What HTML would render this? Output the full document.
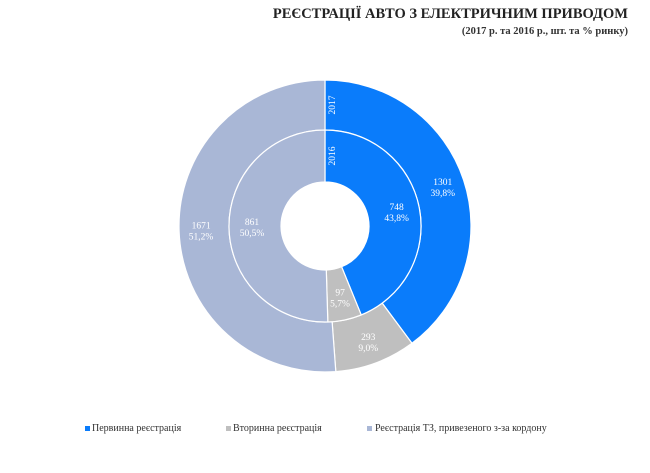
<!DOCTYPE html>
<html><head><meta charset="utf-8"><style>
body{margin:0;background:#fff;width:650px;height:468px;overflow:hidden;font-family:"Liberation Serif",serif}
</style></head><body>
<svg width="650" height="468" id="svg" font-family="Liberation Serif, serif">
<text x="628" y="18" text-anchor="end" font-size="14.5" font-weight="bold" fill="#222">РЕЄСТРАЦІЇ АВТО З ЕЛЕКТРИЧНИМ ПРИВОДОМ</text>
<text x="628" y="34" text-anchor="end" font-size="10.5" font-weight="bold" fill="#333">(2017 р. та 2016 р., шт. та % ринку)</text>
<g id="rings"></g>
<g font-size="10" fill="#333">
<rect x="85" y="426" width="5" height="5" fill="#0a7cfb"/>
<text x="92" y="431">Первинна реєстрація</text>
<rect x="226" y="426" width="5" height="5" fill="#bfbfbf"/>
<text x="233" y="431">Вторинна реєстрація</text>
<rect x="367" y="426" width="5" height="5" fill="#a9b7d6"/>
<text x="375" y="431">Реєстрація ТЗ, привезеного з-за кордону</text>
</g>
</svg>
<script>
const categories=["Первинна реєстрація","Вторинна реєстрація","Реєстрація ТЗ, привезеного з-за кордону"];
const years=["2017","2016"];
const values2017=[1301,293,1671];
const values2016=[748,97,861];
const pct2017=["39,8%","9,0%","51,2%"];
const pct2016=["43,8%","5,7%","50,5%"];
const colors=["#0a7cfb","#bfbfbf","#a9b7d6"];
const cx=325,cy=226;
const g=document.getElementById('rings');
const NS="http://www.w3.org/2000/svg";
function pt(r,a){return [cx+r*Math.sin(a),cy-r*Math.cos(a)];}
function ring(vals,pcts,r0,r1,key,year){
  const tot=vals.reduce((s,v)=>s+v,0);let a=0;
  vals.forEach((v,i)=>{
    const a2=a+v/tot*2*Math.PI,lg=(a2-a)>Math.PI?1:0;
    const [x1,y1]=pt(r1,a),[x2,y2]=pt(r1,a2),[x3,y3]=pt(r0,a2),[x4,y4]=pt(r0,a);
    const p=document.createElementNS(NS,'path');
    p.setAttribute('d',`M${x1},${y1}A${r1},${r1} 0 ${lg} 1 ${x2},${y2}L${x3},${y3}A${r0},${r0} 0 ${lg} 0 ${x4},${y4}Z`);
    p.setAttribute('fill',colors[i]);p.setAttribute('stroke','#fff');p.setAttribute('stroke-width','1.2');
    
    
    g.appendChild(p);
    const m=(a+a2)/2,[lx,ly]=pt((r0+r1)/2+3,m);
    const t=document.createElementNS(NS,'text');
    t.setAttribute('x',lx);t.setAttribute('y',ly-2);t.setAttribute('text-anchor','middle');
    t.setAttribute('font-size','9.5');t.setAttribute('fill','#fff');
    t.innerHTML=`<tspan x="${lx}">${v}</tspan><tspan x="${lx}" dy="11">${pcts[i]}</tspan>`;
    
    
    g.appendChild(t);
    a=a2;
  });
  const y=document.createElementNS(NS,'text');
  const yy=cy-(r0+r1)/2;
  y.setAttribute('transform',`translate(${cx+10},${yy}) rotate(-90)`);
  y.setAttribute('text-anchor','middle');y.setAttribute('font-size','9.5');y.setAttribute('fill','#fff');
  y.textContent=year;
  
  
  g.appendChild(y);
}
ring(values2017,pct2017,96,146,'ring-2017',years[0]);
ring(values2016,pct2016,44,96,'ring-2016',years[1]);
</script>
</body></html>
